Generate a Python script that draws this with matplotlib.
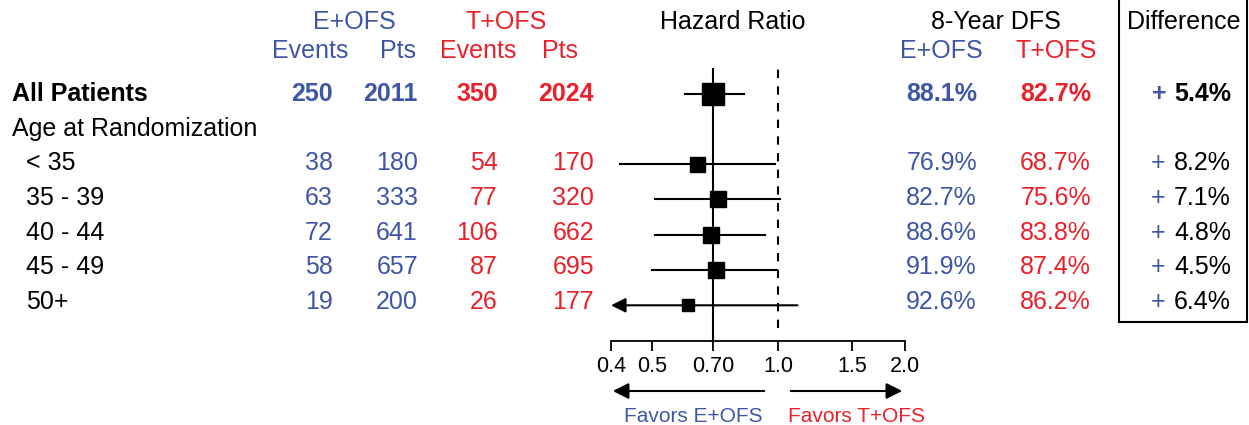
import numpy as np
import matplotlib.pyplot as plt
from matplotlib.patches import Rectangle

plt.rcParams['font.family'] = ['Liberation Sans', 'DejaVu Sans']

BLUE = '#3F56A6'
RED = '#E8212B'

# overall row
all_e_events, all_e_pts = 250, 2011
all_t_events, all_t_pts = 350, 2024
all_hr, all_lo, all_hi = 0.70, 0.60, 0.83
all_e_dfs, all_t_dfs, all_diff = 88.1, 82.7, 5.4

# age subgroups
groups = ['< 35', '35 - 39', '40 - 44', '45 - 49', '50+']
e_events = [38, 63, 72, 58, 19]
e_pts = [180, 333, 641, 657, 200]
t_events = [54, 77, 106, 87, 26]
t_pts = [170, 320, 662, 695, 177]
hr = [0.64, 0.72, 0.69, 0.71, 0.61]
hr_lo = [0.42, 0.51, 0.51, 0.50, 0.38]
hr_hi = [0.98, 1.01, 0.93, 0.99, 1.11]
e_dfs = [76.9, 82.7, 88.6, 91.9, 92.6]
t_dfs = [68.7, 75.6, 83.8, 87.4, 86.2]
diff = [8.2, 7.1, 4.8, 4.5, 6.4]

ticks = [0.4, 0.5, 0.7, 1.0, 1.5, 2.0]
tick_labels = ['0.4', '0.5', '0.70', '1.0', '1.5', '2.0']

W, H = 1249, 425
fig = plt.figure(figsize=(W / 100, H / 100), dpi=100)
bg = fig.add_axes([0, 0, 1, 1])
bg.set_xlim(0, W)
bg.set_ylim(H, 0)
bg.axis('off')

fs = 18

def row_y(i):
    return 94 + 34.7 * i

# headers
bg.text(354, 22, 'E+OFS', color=BLUE, fontsize=fs, ha='center', va='center')
bg.text(506, 22, 'T+OFS', color=RED, fontsize=fs, ha='center', va='center')
bg.text(310, 51, 'Events', color=BLUE, fontsize=fs, ha='center', va='center')
bg.text(398, 51, 'Pts', color=BLUE, fontsize=fs, ha='center', va='center')
bg.text(478, 51, 'Events', color=RED, fontsize=fs, ha='center', va='center')
bg.text(560, 51, 'Pts', color=RED, fontsize=fs, ha='center', va='center')
bg.text(733, 22, 'Hazard Ratio', color='black', fontsize=fs, ha='center', va='center')
bg.text(996, 22, '8-Year DFS', color='black', fontsize=fs, ha='center', va='center')
bg.text(941, 51, 'E+OFS', color=BLUE, fontsize=fs, ha='center', va='center')
bg.text(1056, 51, 'T+OFS', color=RED, fontsize=fs, ha='center', va='center')
bg.text(1184, 22, 'Difference', color='black', fontsize=fs, ha='center', va='center')

cols = [(333, BLUE), (418, BLUE), (498, RED), (594, RED)]

# overall row (bold)
y = row_y(0)
bg.text(12, y, 'All Patients', fontsize=fs, fontweight='bold', va='center')
for (x, c), v in zip(cols, [all_e_events, all_e_pts, all_t_events, all_t_pts]):
    bg.text(x, y, str(v), color=c, fontsize=fs, fontweight='bold', ha='right', va='center')
bg.text(977, y, f'{all_e_dfs:.1f}%', color=BLUE, fontsize=fs, fontweight='bold', ha='right', va='center')
bg.text(1091, y, f'{all_t_dfs:.1f}%', color=RED, fontsize=fs, fontweight='bold', ha='right', va='center')
bg.text(1159, y, '+', color=BLUE, fontsize=fs, fontweight='bold', ha='center', va='center')
bg.text(1231, y, f'{all_diff:.1f}%', color='black', fontsize=fs, fontweight='bold', ha='right', va='center')

bg.text(12, row_y(1), 'Age at Randomization', fontsize=fs, va='center')

for k, g in enumerate(groups):
    y = row_y(k + 2)
    bg.text(26, y, g, fontsize=fs, va='center')
    for (x, c), v in zip(cols, [e_events[k], e_pts[k], t_events[k], t_pts[k]]):
        bg.text(x, y, str(v), color=c, fontsize=fs, ha='right', va='center')
    bg.text(977, y, f'{e_dfs[k]:.1f}%', color=BLUE, fontsize=fs, ha='right', va='center')
    bg.text(1091, y, f'{t_dfs[k]:.1f}%', color=RED, fontsize=fs, ha='right', va='center')
    bg.text(1158, y, '+', color=BLUE, fontsize=fs, ha='center', va='center')
    bg.text(1231, y, f'{diff[k]:.1f}%', color='black', fontsize=fs, ha='right', va='center')

# difference box
bg.add_patch(Rectangle((1119, -2), 128, 324, fill=False, edgecolor='black', lw=1.5))

# favors arrows
bg.annotate('', xy=(610, 391), xytext=(767, 391),
            arrowprops=dict(arrowstyle='-|>', lw=1.5, color='black', mutation_scale=24))
bg.annotate('', xy=(905, 391), xytext=(788, 391),
            arrowprops=dict(arrowstyle='-|>', lw=1.5, color='black', mutation_scale=24))
bg.text(693, 416, 'Favors E+OFS', color=BLUE, fontsize=15, ha='center', va='center')
bg.text(857, 416, 'Favors T+OFS', color=RED, fontsize=15, ha='center', va='center')

# forest plot
x0, x1, ytop, ybot = 611, 905, 68, 341
ax = fig.add_axes([x0 / W, (H - ybot) / H, (x1 - x0) / W, (ybot - ytop) / H])
ax.set_xscale('log')
ax.set_xlim(0.4, 2.0)
row_px = lambda px: (px - 93.5) / 35.3
ax.set_ylim(row_px(ybot), row_px(ytop))
ax.patch.set_alpha(0)
for s in ['top', 'right', 'left']:
    ax.spines[s].set_visible(False)
ax.spines['bottom'].set_linewidth(1.3)
ax.set_yticks([])
ax.set_xticks(ticks)
ax.set_xticklabels(tick_labels)
ax.minorticks_off()
ax.tick_params(axis='x', direction='out', length=7, width=1.3, pad=4, labelsize=15.5)

ax.axvline(all_hr, color='black', lw=1.5, zorder=1)
ax.vlines(1.0, row_px(328), row_px(ytop), color='black', lw=1.5, linestyles=(0, (4, 4)))

all_y = [0] + [k + 2 for k in range(len(groups))]
all_hrs = [all_hr] + hr
all_los = [all_lo] + hr_lo
all_his = [all_hi] + hr_hi
box_size = [16.5, 10.8, 12.2, 12.2, 12.0, 8.6]

for yy, h, lo, hi, ms in zip(all_y, all_hrs, all_los, all_his, box_size):
    if lo < 0.4:
        ax.annotate('', xy=(0.4, yy), xytext=(hi, yy), annotation_clip=False,
                    arrowprops=dict(arrowstyle='-|>', lw=1.5, color='black',
                                    mutation_scale=22, shrinkA=0, shrinkB=0))
    else:
        ax.plot([lo, hi], [yy, yy], color='black', lw=1.5, clip_on=False)
    ax.plot(h, yy, marker='s', ms=ms, color='black', zorder=3, clip_on=False)

fig.savefig('out.png', dpi=100)
